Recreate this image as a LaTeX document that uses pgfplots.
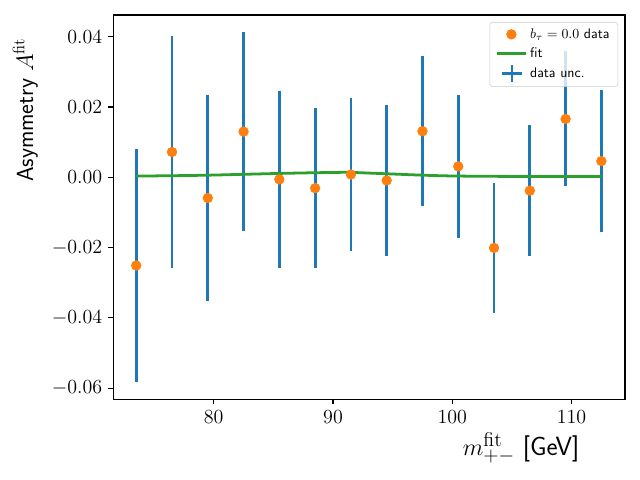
\documentclass[border=0pt]{standalone}
\usepackage{pgfplots}
\pgfplotsset{compat=1.18}
\definecolor{C0}{HTML}{1F77B4}
\definecolor{C1}{HTML}{FF7F0E}
\definecolor{C2}{HTML}{2CA02C}
\pgfplotstableread{
x y err
73.5 -0.0251 0.0331
76.5 0.0072 0.0329
79.5 -0.0059 0.0292
82.5 0.0130 0.0283
85.5 -0.0006 0.0252
88.5 -0.0031 0.0227
91.5 0.0008 0.0217
94.5 -0.0009 0.0214
97.5 0.0131 0.0213
100.5 0.0031 0.0204
103.5 -0.0201 0.0185
106.5 -0.0038 0.0186
109.5 0.0166 0.0192
112.5 0.0046 0.0201
}\datatable
\pgfplotstableread{
x y
73.5 0.00035
76.5 0.00045
79.5 0.0006
82.5 0.00085
85.5 0.0011
88.5 0.0013
90.5 0.0014
91.5 0.0014
93.0 0.0012
94.5 0.0010
96.0 0.0008
97.5 0.0006
99.0 0.00045
100.5 0.00035
103.5 0.00027
106.5 0.00025
109.5 0.00025
112.5 0.00025
}\fittable
\begin{document}
\begin{tikzpicture}
\path[use as bounding box] (-81.6pt,-58.1pt) rectangle (379.2pt,287.5pt);
\begin{axis}[
  at={(0pt,0pt)}, anchor=south west,
  scale only axis, width=368.4pt, height=276.7pt,
  xmin=71.58, xmax=114.48, ymin=-0.06316, ymax=0.04617,
  xtick={80,90,100,110},
  ytick={-0.06,-0.04,-0.02,0,0.02,0.04},
  yticklabel style={/pgf/number format/fixed, /pgf/number format/fixed zerofill, /pgf/number format/precision=2},
  scaled y ticks=false,
  xtick pos=bottom, ytick pos=left,
  tick align=outside, major tick length=3.5pt,
  tick style={black, line width=0.8pt},
  axis line style={line width=0.8pt},
  ticklabel style={font=\fontsize{14}{16}\selectfont},
  xticklabel style={yshift=-1pt},
  yticklabel style={xshift=-1pt},
  ylabel={\textsf{Asymmetry} $A^{\mathrm{fit}}$},
  ylabel style={at={(axis description cs:-0.172,0.753)}, anchor=center, font=\fontsize{16.8}{19}\selectfont},
  xlabel={$m_{+-}^{\mathrm{fit}}$ \textsf{[GeV]}},
  xlabel style={at={(axis description cs:0.797,-0.127)}, anchor=center, font=\fontsize{19}{22}\selectfont},
  legend style={at={(1,1)}, anchor=north east, xshift=-5pt, yshift=-5pt,
    draw=black!20, rounded corners=2pt, fill=white, fill opacity=0.8, text opacity=1,
    font=\sffamily\fontsize{10}{12}\selectfont, row sep=1.2pt, inner xsep=4pt, inner ysep=2.5pt,
    cells={anchor=west}},
  legend image post style={fill opacity=1, draw opacity=1},
  legend cell align=left,
]
\addlegendimage{only marks, mark=*, mark size=3.5pt, color=C1}
\addlegendentry{$b_\tau = 0.0$ data}
\addlegendimage{legend image code/.code={\draw[C2, line width=2pt] (-2pt,0pt) -- (19pt,0pt);}}
\addlegendentry{fit}
\addlegendimage{legend image code/.code={\draw[C0, line width=2pt] (2pt,0pt) -- (16pt,0pt); \draw[C0, line width=2pt] (9pt,-6pt) -- (9pt,6pt);}}
\addlegendentry{data unc.}
\addplot[forget plot, only marks, mark=none, C0, line width=2pt,
  error bars/.cd, y dir=both, y explicit, error mark=none,
  error bar style={C0, solid, line width=2pt}]
  table[x=x, y=y, y error=err] {\datatable};
\addplot[forget plot, C2, line width=2pt, smooth, mark=none] table[x=x, y=y] {\fittable};
\addplot[forget plot, only marks, mark=*, mark size=3.5pt, color=C1] table[x=x, y=y] {\datatable};
\end{axis}
\end{tikzpicture}
\end{document}
